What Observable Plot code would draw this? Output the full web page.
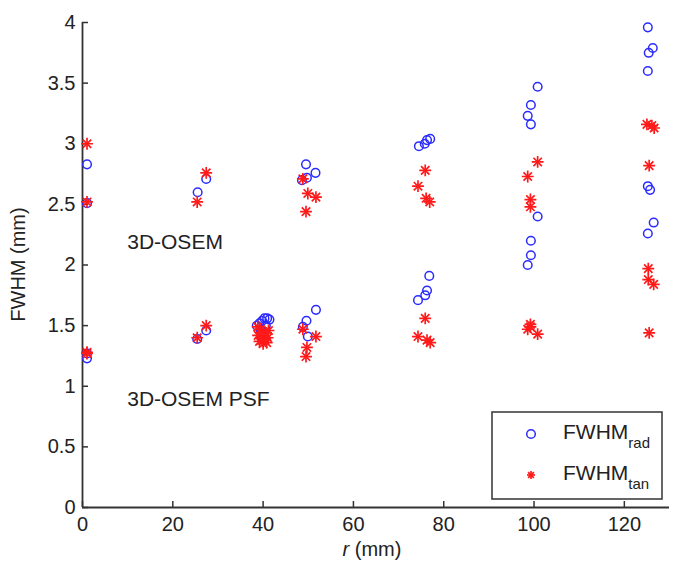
<!DOCTYPE html>
<html>
<head>
<meta charset="utf-8">
<script src="https://cdn.jsdelivr.net/npm/d3@7"></script>
<script src="https://cdn.jsdelivr.net/npm/@observablehq/plot@0.6"></script>
<style>
  html, body { margin: 0; padding: 0; background: #fff; }
</style>
</head>
<body>
<div id="chart"></div>
<script>
// Tick values
const xTicks = [0, 20, 40, 60, 80, 100, 120];
const yTicks = [0, 0.5, 1, 1.5, 2, 2.5, 3, 3.5, 4];
const yTickLabels = ["0", "0.5", "1", "1.5", "2", "2.5", "3", "3.5", "4"];

// FWHM radial: [r (mm), FWHM (mm)]
const radialPoints = [
  [1.0, 2.83], [1.0, 2.51], [1.0, 1.27], [1.0, 1.23],
  [25.5, 2.60], [27.4, 2.71], [25.4, 1.39], [27.4, 1.46],
  [38.6, 1.50], [39.2, 1.52], [39.8, 1.54], [40.3, 1.56],
  [40.9, 1.56], [41.4, 1.55], [39.4, 1.47], [40.6, 1.50],
  [49.5, 2.83], [51.6, 2.76], [48.6, 2.70], [49.7, 2.72],
  [51.7, 1.63], [49.6, 1.54], [48.8, 1.49], [49.9, 1.41],
  [74.5, 2.98], [75.8, 3.00], [76.3, 3.03], [77.0, 3.04],
  [76.8, 1.91], [76.3, 1.79], [75.9, 1.75], [74.3, 1.71],
  [100.8, 3.47], [99.3, 3.32], [98.6, 3.23], [99.3, 3.16],
  [100.8, 2.40], [99.3, 2.20], [99.3, 2.08], [98.6, 2.00],
  [125.2, 3.96], [126.3, 3.79], [125.4, 3.75], [125.2, 3.60],
  [125.2, 2.65], [125.7, 2.62], [126.5, 2.35], [125.2, 2.26]
];

// FWHM tangential: [r (mm), FWHM (mm)]
const tangentialPoints = [
  [1.0, 3.00], [1.0, 2.52], [1.0, 1.28], [1.0, 1.27],
  [25.4, 2.52], [27.4, 2.76], [25.4, 1.40], [27.4, 1.50],
  [38.8, 1.49], [39.4, 1.47], [40.0, 1.45], [40.6, 1.44],
  [41.2, 1.46], [38.9, 1.42], [39.6, 1.40], [40.3, 1.39],
  [41.0, 1.40], [39.2, 1.37], [40.0, 1.35], [40.8, 1.36],
  [48.8, 2.71], [49.9, 2.59], [51.7, 2.56], [49.5, 2.44],
  [48.8, 1.47], [51.7, 1.41], [49.7, 1.32], [49.5, 1.245],
  [75.9, 2.78], [74.3, 2.65], [76.1, 2.55], [76.9, 2.52],
  [75.9, 1.56], [74.3, 1.41], [76.3, 1.38], [77.0, 1.36],
  [100.8, 2.85], [98.6, 2.73], [99.2, 2.54], [99.2, 2.48],
  [99.2, 1.51], [99.2, 1.49], [98.6, 1.47], [100.8, 1.43],
  [125.0, 3.16], [126.1, 3.15], [126.6, 3.13], [125.5, 2.82],
  [125.3, 1.97], [125.3, 1.88], [126.5, 1.84], [125.5, 1.44]
];

// Annotations
const annotations = [
  { label: "3D-OSEM", r: 9.9, v: 2.13 },
  { label: "3D-OSEM PSF", r: 9.9, v: 0.84 }
];

const legendItems = [
  { main: "FWHM", sub: "rad", kind: "rad" },
  { main: "FWHM", sub: "tan", kind: "tan" }
];

const W = 673, H = 563;
const mL = 82, mR = 4, mT = 22, mB = 56;
const axisColor = "#333333";
const blue = "#2b2bff";
const red = "#ff1a1a";
const font = "'Liberation Sans', Arial, Helvetica, sans-serif";

const plot = Plot.plot({
  width: W,
  height: H,
  marginLeft: mL,
  marginRight: mR,
  marginTop: mT,
  marginBottom: mB,
  style: { fontFamily: font, background: "#ffffff", color: "#222" },
  x: { domain: [0, 130] },
  y: { domain: [0, 4] },
  marks: [
    Plot.axisX({ ticks: xTicks, tickSize: 0, tickPadding: 9, fontSize: 20, label: null, fill: "#222" }),
    Plot.axisY({ ticks: yTicks, tickFormat: (d) => yTickLabels[yTicks.indexOf(d)], tickSize: 0, tickPadding: 7, fontSize: 20, label: null, fill: "#222" }),
    Plot.tickX(xTicks, { x: d => d, insetTop: (H - mT - mB) - 6, stroke: axisColor, strokeWidth: 1.5 }),
    Plot.tickY(yTicks, { y: d => d, insetRight: (W - mL - mR) - 6, stroke: axisColor, strokeWidth: 1.5 }),
    Plot.ruleY([0], { stroke: axisColor, strokeWidth: 1.8 }),
    Plot.ruleX([0], { stroke: axisColor, strokeWidth: 1.8 }),
    Plot.dot(radialPoints, { x: d => d[0], y: d => d[1], r: 4.3, stroke: blue, strokeWidth: 1.5, fill: "none" }),
    Plot.dot(tangentialPoints, { x: d => d[0], y: d => d[1], symbol: "plus", r: 3.9, stroke: red, strokeWidth: 1.7 }),
    Plot.dot(tangentialPoints, { x: d => d[0], y: d => d[1], symbol: "times", r: 3.9, stroke: red, strokeWidth: 1.7 }),
    Plot.text(annotations, { x: "r", y: "v", text: "label", textAnchor: "start", lineAnchor: "bottom", fontSize: 21, fill: "#222" })
  ]
});

document.getElementById("chart").appendChild(plot);

const svg = d3.select(plot);

// Axis labels
svg.append("text")
  .attr("transform", `translate(25, ${(mT + (H - mB)) / 2}) rotate(-90)`)
  .attr("text-anchor", "middle")
  .attr("font-family", font)
  .attr("font-size", 20)
  .attr("fill", "#222")
  .text("FWHM (mm)");

const xl = svg.append("text")
  .attr("x", 372)
  .attr("y", 556)
  .attr("text-anchor", "middle")
  .attr("font-family", font)
  .attr("font-size", 20)
  .attr("fill", "#222");
xl.append("tspan").attr("font-style", "italic").text("r");
xl.append("tspan").text(" (mm)");

// Legend box
const lx = 492, ly = 412, lw = 170, lh = 87;
const lg = svg.append("g");
lg.append("rect")
  .attr("x", lx).attr("y", ly).attr("width", lw).attr("height", lh)
  .attr("fill", "#fff").attr("stroke", axisColor).attr("stroke-width", 1.5);

legendItems.forEach((it, i) => {
  const cy = ly + 22 + i * 41;
  const cx = 531;
  if (it.kind === "rad") {
    lg.append("circle").attr("cx", cx).attr("cy", cy).attr("r", 4.3)
      .attr("fill", "none").attr("stroke", blue).attr("stroke-width", 1.5);
  } else {
    const s = 4;
    const p = lg.append("g").attr("stroke", red).attr("stroke-width", 1.7);
    p.append("line").attr("x1", cx - s).attr("x2", cx + s).attr("y1", cy).attr("y2", cy);
    p.append("line").attr("x1", cx).attr("x2", cx).attr("y1", cy - s).attr("y2", cy + s);
    p.append("line").attr("x1", cx - s * 0.72).attr("x2", cx + s * 0.72).attr("y1", cy - s * 0.72).attr("y2", cy + s * 0.72);
    p.append("line").attr("x1", cx - s * 0.72).attr("x2", cx + s * 0.72).attr("y1", cy + s * 0.72).attr("y2", cy - s * 0.72);
  }
  const t = lg.append("text")
    .attr("x", 563).attr("y", cy + 5)
    .attr("text-anchor", "start")
    .attr("font-family", font).attr("font-size", 21).attr("fill", "#222");
  t.append("tspan").text(it.main);
  t.append("tspan").attr("font-size", 15).attr("dy", 9).text(it.sub);
});
</script>
</body>
</html>
